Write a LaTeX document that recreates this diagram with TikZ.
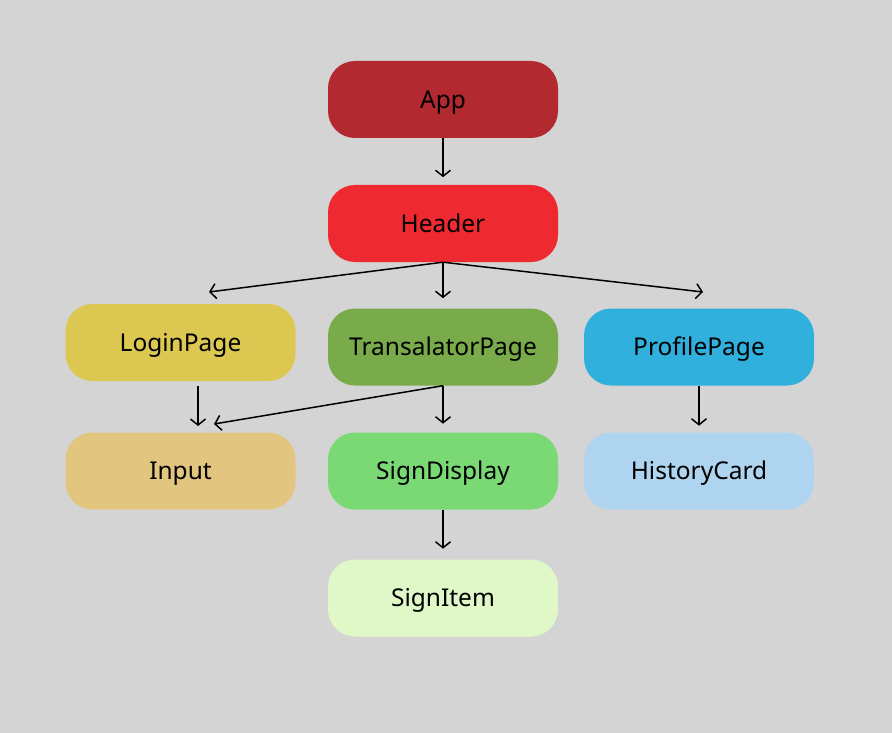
\documentclass[tikz,border=0pt]{standalone}
\usepackage{fontspec}
\setmainfont{Noto Sans}
\usetikzlibrary{arrows.meta}
\definecolor{bggray}{HTML}{D4D4D4}
\definecolor{appred}{HTML}{B22A30}
\definecolor{headerred}{HTML}{EE2A30}
\definecolor{loginyellow}{HTML}{DCC850}
\definecolor{transgreen}{HTML}{79AB4B}
\definecolor{profileblue}{HTML}{31B0DE}
\definecolor{inputtan}{HTML}{E2C680}
\definecolor{displaygreen}{HTML}{7AD975}
\definecolor{historyblue}{HTML}{AED4F0}
\definecolor{itemgreen}{HTML}{E0F8C8}
\tikzset{
  comp/.style={rounded corners=27pt,minimum width=230pt,minimum height=77pt,
    inner sep=0pt,text height=17.8pt,text depth=0pt,
    font=\fontsize{24.5}{29}\selectfont},
  link/.style={-{Straight Barb[length=6pt,width=15pt]},line width=1.5pt}
}

\begin{document}
\begin{tikzpicture}[x=1pt,y=-1pt]
\useasboundingbox[fill=bggray] (0,0) rectangle (892,733);
\node[comp,fill=appred] (app) at (443,99.5) {App};
\node[comp,fill=headerred] (header) at (443,223.5) {Header};
\node[comp,fill=loginyellow] (login) at (180.5,342.5) {LoginPage};
\node[comp,fill=transgreen] (trans) at (443,347) {TransalatorPage};
\node[comp,fill=profileblue] (profile) at (699,347) {ProfilePage};
\node[comp,fill=inputtan] (input) at (180.5,471) {Input};
\node[comp,fill=displaygreen] (display) at (443,471) {SignDisplay};
\node[comp,fill=historyblue] (history) at (699,471) {HistoryCard};
\node[comp,fill=itemgreen] (item) at (443,598) {SignItem};
% free ends of the arrows
\coordinate (headerL) at (209,292);
\coordinate (headerR) at (703,292);
\coordinate (loginTop) at (198,386);
\coordinate (inputA) at (198,426);
\coordinate (inputB) at (214,424);
\draw[link] (app.south) -- +(0,39);
\draw[link] (header.south) -- (headerL);
\draw[link] (header.south) -- +(0,36);
\draw[link] (header.south) -- (headerR);
\draw[link] (loginTop) -- (inputA);
\draw[link] (trans.south) -- (inputB);
\draw[link] (trans.south) -- +(0,38);
\draw[link] (profile.south) -- +(0,40);
\draw[link] (display.south) -- +(0,39);
\end{tikzpicture}
\end{document}
